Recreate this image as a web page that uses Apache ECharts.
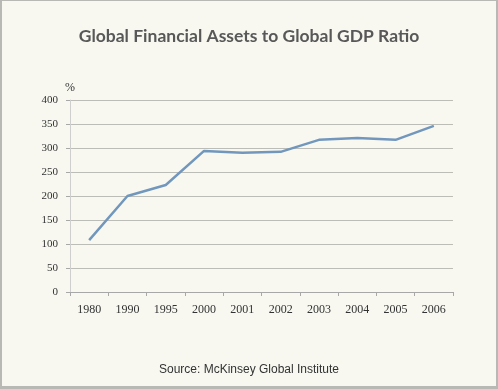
<!DOCTYPE html>
<html><head><meta charset="utf-8">
<script src="https://cdn.jsdelivr.net/npm/echarts@6/dist/echarts.min.js"></script>
<style>
html,body{margin:0;padding:0;width:498px;height:389px;background:#b8b8b4;overflow:hidden}
#c{position:absolute;left:2px;top:1px;width:494px;height:385px;background:#f8f8f1}
</style></head>
<body><div id="c"></div>
<script>
const categories = ['1980','1990','1995','2000','2001','2002','2003','2004','2005','2006'];
const ratioValues = [108, 200, 223, 294, 290, 292, 317, 321, 317, 346];
const yTicks = [0, 50, 100, 150, 200, 250, 300, 350, 400];

const chart = echarts.init(document.getElementById('c'));
chart.setOption({
  backgroundColor: '#f8f8f1',
  animation: false,
  title: [{
    text: 'Global Financial Assets to Global GDP Ratio',
    left: 'center', top: 21,
    textStyle: {fontFamily: 'Lato', fontSize: 17.5, fontWeight: 'bold', color: '#585858'}
  }, {
    text: 'Source: McKinsey Global Institute',
    left: 'center', top: 358,
    textStyle: {fontFamily: 'Liberation Sans', fontSize: 12, fontWeight: 'normal', color: '#333333'}
  }],
  grid: {left: 68, right: 43, top: 99, bottom: 94},
  xAxis: {
    type: 'category', data: categories, boundaryGap: true,
    axisLine: {lineStyle: {color: '#a8a8a8', width: 1}},
    axisTick: {show: true, length: 4, lineStyle: {color: '#a8a8a8'}},
    axisLabel: {margin: 12, fontFamily: 'Liberation Serif', fontSize: 12, color: '#333333'}
  },
  yAxis: {
    type: 'value', min: yTicks[0], max: yTicks[yTicks.length - 1], interval: 50,
    name: '%', nameLocation: 'end', nameGap: 6,
    nameTextStyle: {fontFamily: 'Liberation Serif', fontSize: 12, color: '#333333', align: 'center'},
    axisLine: {show: true, lineStyle: {color: '#cfcfcf'}},
    axisTick: {show: true, length: 4, lineStyle: {color: '#a8a8a8'}},
    axisLabel: {margin: 12, fontFamily: 'Liberation Serif', fontSize: 11, color: '#333333'},
    splitLine: {lineStyle: {color: '#bdbdb8', width: 1.2}}
  },
  series: [{
    type: 'line', data: ratioValues, symbol: 'none',
    lineStyle: {color: '#7297bd', width: 2.5}
  }]
});
</script></body></html>
